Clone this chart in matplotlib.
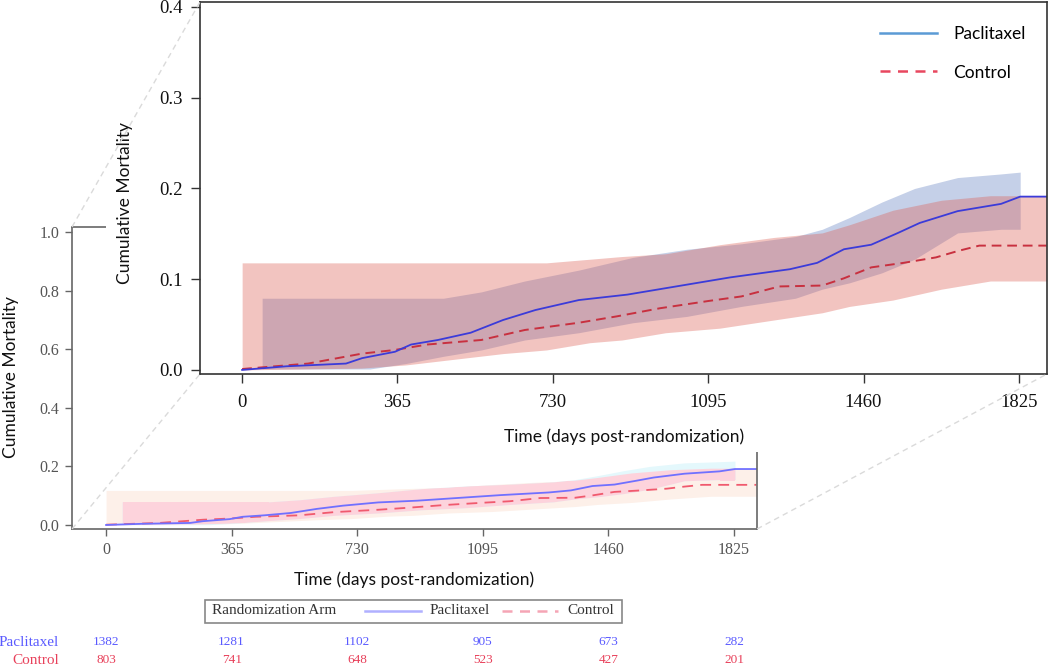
import numpy as np
import matplotlib.pyplot as plt
import matplotlib.transforms as mtransforms
from matplotlib.lines import Line2D
from matplotlib.patches import Rectangle

W, H = 1050, 667

# Kaplan-Meier style cumulative mortality
pac_days = [0, 104, 244, 282, 359, 397, 460, 537, 613, 689, 791, 905, 1045, 1147,
            1287, 1351, 1414, 1478, 1541, 1592, 1681, 1783, 1828, 1890]
pac_est = [0.0, 0.004, 0.007, 0.013, 0.020, 0.028, 0.033, 0.041, 0.055, 0.066, 0.077,
           0.083, 0.094, 0.102, 0.111, 0.118, 0.133, 0.138, 0.151, 0.162, 0.175, 0.183,
           0.191, 0.191]

ctl_days = [0, 155, 282, 359, 435, 562, 664, 791, 880, 982, 1096, 1173, 1262, 1363,
            1414, 1478, 1554, 1630, 1681, 1732, 1890]
ctl_est = [0.001, 0.007, 0.018, 0.022, 0.028, 0.033, 0.044, 0.052, 0.059, 0.068, 0.076,
           0.081, 0.092, 0.093, 0.101, 0.113, 0.118, 0.124, 0.131, 0.137, 0.137]

pac_ci_days = [47, 300, 384, 473, 562, 664, 791, 918, 1045, 1173, 1300, 1363, 1427,
               1503, 1580, 1681, 1783, 1828]
pac_lo = [0.001, 0.001, 0.007, 0.015, 0.022, 0.033, 0.041, 0.052, 0.059, 0.070, 0.079,
          0.089, 0.096, 0.107, 0.122, 0.151, 0.155, 0.155]
pac_hi = [0.079, 0.079, 0.079, 0.079, 0.086, 0.098, 0.110, 0.124, 0.133, 0.139, 0.147,
          0.155, 0.168, 0.185, 0.200, 0.212, 0.216, 0.218]

ctl_ci_days = [0, 280, 385, 485, 613, 715, 817, 893, 995, 1122, 1249, 1363, 1427, 1529,
               1643, 1758, 1890]
ctl_lo = [0.0, 0.002, 0.0055, 0.011, 0.018, 0.022, 0.030, 0.033, 0.041, 0.046, 0.055,
          0.063, 0.070, 0.077, 0.089, 0.098, 0.098]
ctl_hi = [0.118, 0.118, 0.118, 0.118, 0.118, 0.118, 0.122, 0.125, 0.128, 0.138, 0.146,
          0.151, 0.160, 0.176, 0.187, 0.192, 0.192]

tick_days = [0, 365, 730, 1095, 1460, 1825]
pac_at_risk = [1382, 1281, 1102, 905, 673, 282]
ctl_at_risk = [803, 741, 648, 523, 427, 201]

plt.rcParams['font.family'] = 'Liberation Serif'
SANS = 'Lato'

fig = plt.figure(figsize=(W / 100, H / 100), dpi=100)


def box(x0, y0, x1, y1):
    # pixel box (top-left origin) -> figure fraction rect
    return [x0 / W, 1 - y1 / H, (x1 - x0) / W, (y1 - y0) / H]


# full-range plot (bottom left)
inset = fig.add_axes(box(72, 227, 757, 529), zorder=1)
cb = inset.fill_between(ctl_ci_days, ctl_lo, ctl_hi, color='#fdf0e9', lw=0)
inset.fill_between(pac_ci_days, pac_lo, pac_hi, color='#e4f8fc', lw=0)
ov = inset.fill_between(pac_ci_days, pac_lo, pac_hi, color='#fdd3dc', lw=0)
ov.set_clip_path(cb.get_paths()[0], cb.get_transform())
inset.plot(ctl_days, ctl_est, color='#f05a6e', lw=1.3, dashes=(6, 4))
inset.plot(pac_days, pac_est, color='#7070ff', lw=1.3)
inset.set_xlim(-99, 1892)
inset.set_ylim(-0.0137, 1.017)
inset.set_xticks(tick_days)
inset.set_yticks([0, 0.2, 0.4, 0.6, 0.8, 1.0])
inset.set_yticklabels(['0.0', '0.2', '0.4', '0.6', '0.8', '1.0'])
inset.tick_params(direction='out', length=5, width=1, color='#666', labelcolor='#555',
                  labelsize=11.5, pad=4)
for s in inset.spines.values():
    s.set_color('#666')
    s.set_linewidth(1.2)

# white backdrop of the zoomed view
fig.add_artist(Rectangle((106 / W, 1 - 452 / H), 1 - 106 / W, 452 / H,
                         transform=fig.transFigure, facecolor='white',
                         edgecolor='none', zorder=2))

# zoomed plot
ax = fig.add_axes(box(200, 2, 1047, 374), zorder=3)
ax.fill_between(pac_ci_days, pac_lo, pac_hi, color='#c5d0e8', lw=0)
ax.fill_between(ctl_ci_days, ctl_lo, ctl_hi, color='#dc6056', alpha=0.37, lw=0)
ax.plot(ctl_days, ctl_est, color='#c8303f', lw=1.4, dashes=(5, 3))
ax.plot(pac_days, pac_est, color='#3b3bd9', lw=1.3)
ax.set_xlim(-99, 1891)
ax.set_ylim(-0.0045, 0.4055)
ax.set_xticks(tick_days)
ax.set_yticks([0, 0.1, 0.2, 0.3, 0.4])
ax.set_yticklabels(['0.0', '0.1', '0.2', '0.3', '0.4'])
ax.tick_params(direction='out', length=6.5, width=1, color='#333', labelcolor='#111',
               labelsize=13.5, pad=6)
ax.tick_params(axis='x', pad=8)
for s in ax.spines.values():
    s.set_color('#333')
    s.set_linewidth(1.2)

handles = [Line2D([], [], color='#5b9bd5', lw=1.8),
           Line2D([], [], color='#e8475f', lw=1.8, dashes=(4, 3))]
ax.legend(handles, ['Paclitaxel', 'Control'], loc='upper left',
          bbox_to_anchor=(880 / W, 1 - 26 / H), bbox_transform=fig.transFigure,
          frameon=False, prop={'family': SANS, 'size': 12.5}, handlelength=3.3,
          handletextpad=0.9, labelspacing=1.3, borderpad=0, borderaxespad=0)

# axis titles
fig.text(624 / W, 1 - 437 / H, 'Time (days post-randomization)', family=SANS,
         fontsize=12.5, ha='center', va='center', color='#111')
fig.text(125 / W, 1 - 203 / H, 'Cumulative Mortality', family=SANS, fontsize=12.5,
         rotation=90, ha='center', va='center', color='#111')
fig.text(414 / W, 1 - 580 / H, 'Time (days post-randomization)', family=SANS,
         fontsize=12.5, ha='center', va='center', color='#111')
fig.text(11 / W, 1 - 377 / H, 'Cumulative Mortality', family=SANS, fontsize=12.5,
         rotation=90, ha='center', va='center', color='#111')

# dashed zoom connectors
ip = inset.get_position()
mp = ax.get_position()
for (xa, ya), (xb, yb) in [((ip.x0, ip.y1), (mp.x0, mp.y1)),
                           ((ip.x0, ip.y0), (mp.x0, mp.y0)),
                           ((ip.x1, ip.y0), (mp.x1, mp.y0))]:
    fig.add_artist(Line2D([xa, xb], [ya, yb], transform=fig.transFigure,
                          color='#dadada', lw=1, dashes=(4, 3), zorder=5))

# bottom legend box
ly = 1 - 611 / H
fig.add_artist(Rectangle((205 / W, 1 - 623 / H), 417 / W, 23 / H, transform=fig.transFigure,
                         fill=False, edgecolor='#888', lw=1.2))
fig.text(212 / W, ly, 'Randomization Arm', fontsize=11, color='#333', va='center')
fig.add_artist(Line2D([365 / W, 421 / W], [ly, ly], transform=fig.transFigure,
                      color='#b0b0ff', lw=1.8))
fig.text(430 / W, ly, 'Paclitaxel', fontsize=11, color='#333', va='center')
fig.add_artist(Line2D([502 / W, 558 / W], [ly, ly], transform=fig.transFigure,
                      color='#f5a5b5', lw=1.8, dashes=(4, 3)))
fig.text(567 / W, ly, 'Control', fontsize=11, color='#333', va='center')

# numbers at risk
tr = mtransforms.blended_transform_factory(inset.transData, fig.transFigure)
for row, vals, col, lab in [(642, pac_at_risk, '#5a5aff', 'Paclitaxel'),
                            (660, ctl_at_risk, '#e8405a', 'Control')]:
    fig.text(59 / W, 1 - row / H, lab, fontsize=11, color=col, ha='right', va='center')
    for d, n in zip(tick_days, vals):
        fig.text(d, 1 - row / H, str(n), transform=tr, fontsize=9.5, color=col,
                 ha='center', va='center')

fig.savefig('out.png', dpi=100)
